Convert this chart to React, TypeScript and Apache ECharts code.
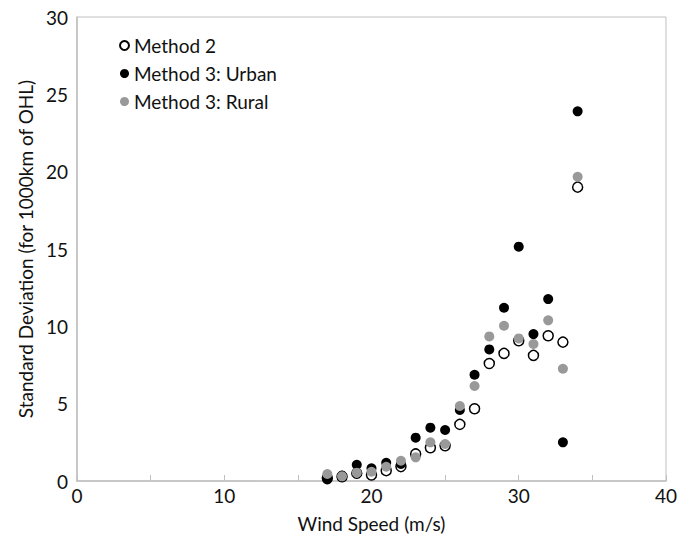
import React, { useEffect, useRef } from "react";
import * as echarts from "echarts";

// Wind speed bins (m/s)
const windSpeeds = [17, 18, 19, 20, 21, 22, 23, 24, 25, 26, 27, 28, 29, 30, 31, 32, 33, 34];

// Standard deviation per 1000 km of overhead line
const method2 = [0.2, 0.28, 0.5, 0.39, 0.67, 0.93, 1.75, 2.15, 2.28, 3.66, 4.67, 7.6, 8.25, 9.07, 8.12, 9.39, 8.98, 19.0];
const method3Urban = [0.1, 0.35, 1.05, 0.82, 1.18, 1.1, 2.8, 3.45, 3.3, 4.59, 6.87, 8.51, 11.2, 15.15, 9.5, 11.76, 2.5, 23.9];
const method3Rural = [0.45, 0.3, 0.54, 0.6, 0.92, 1.31, 1.53, 2.5, 2.39, 4.85, 6.14, 9.35, 10.04, 9.22, 8.86, 10.39, 7.26, 19.67];

const xTicks = { min: 0, max: 40, interval: 10 };
const yTicks = { min: 0, max: 30, interval: 5 };

const FONT = "Lato, 'Open Sans', sans-serif";
const AXIS_GRAY = "#c0c0c0";
const TEXT = "#111111";

const pairs = (ys: number[]) => windSpeeds.map((x, i) => [x, ys[i]]);

export default function App() {
  const ref = useRef<HTMLDivElement>(null);

  useEffect(() => {
    if (!ref.current) return;
    const chart = echarts.init(ref.current, undefined, { renderer: "svg" });
    chart.setOption({
      animation: false,
      backgroundColor: "#ffffff",
      textStyle: { fontFamily: FONT },
      grid: { left: 77, right: 12, top: 17, bottom: 57, containLabel: false, show: true, borderColor: AXIS_GRAY, borderWidth: 1 },
      legend: {
        orient: "vertical",
        left: 114,
        top: 31,
        itemGap: 9,
        itemWidth: 9,
        itemHeight: 9,
        itemTextGap: 6,
        textStyle: { fontSize: 19, color: TEXT, fontFamily: FONT },
        data: ["Method 2", "Method 3: Urban", "Method 3: Rural"],
      },
      xAxis: {
        type: "value",
        min: xTicks.min,
        max: xTicks.max,
        interval: 5,
        name: "Wind Speed (m/s)",
        nameLocation: "middle",
        nameGap: 33,
        nameTextStyle: { fontSize: 19, color: TEXT, fontFamily: FONT },
        axisLine: { show: true, lineStyle: { color: AXIS_GRAY, width: 1.5 } },
        axisTick: { show: true, inside: true, length: 6, lineStyle: { color: AXIS_GRAY } },
        axisLabel: {
          fontSize: 19,
          color: TEXT,
          margin: 5,
          formatter: (v: number) => (v % xTicks.interval === 0 ? String(v) : ""),
        },
        splitLine: { show: false },
      },
      yAxis: {
        type: "value",
        min: yTicks.min,
        max: yTicks.max,
        interval: yTicks.interval,
        name: "Standard Deviation (for 1000km of OHL)",
        nameLocation: "middle",
        nameGap: 40,
        nameTextStyle: { fontSize: 19, color: TEXT, fontFamily: FONT },
        axisLine: { show: true, lineStyle: { color: AXIS_GRAY, width: 1.5 } },
        axisTick: { show: false },
        axisLabel: { fontSize: 19, color: TEXT, margin: 9 },
        splitLine: { show: false },
      },
      series: [
        {
          name: "Method 2",
          type: "scatter",
          symbol: "circle",
          symbolSize: 10,
          itemStyle: { color: "#ffffff", borderColor: "#000000", borderWidth: 1.5, opacity: 1 },
          data: pairs(method2),
        },
        {
          name: "Method 3: Urban",
          type: "scatter",
          symbol: "circle",
          symbolSize: 10,
          itemStyle: { color: "#000000", opacity: 1 },
          data: pairs(method3Urban),
        },
        {
          name: "Method 3: Rural",
          type: "scatter",
          symbol: "circle",
          symbolSize: 10,
          itemStyle: { color: "#999999", opacity: 1 },
          data: pairs(method3Rural),
        },
      ],
    });
    return () => chart.dispose();
  }, []);

  return (
    <div
      ref={ref}
      style={{ position: "absolute", left: 0, top: 0, width: 680, height: 538, overflow: "hidden" }}
    />
  );
}
